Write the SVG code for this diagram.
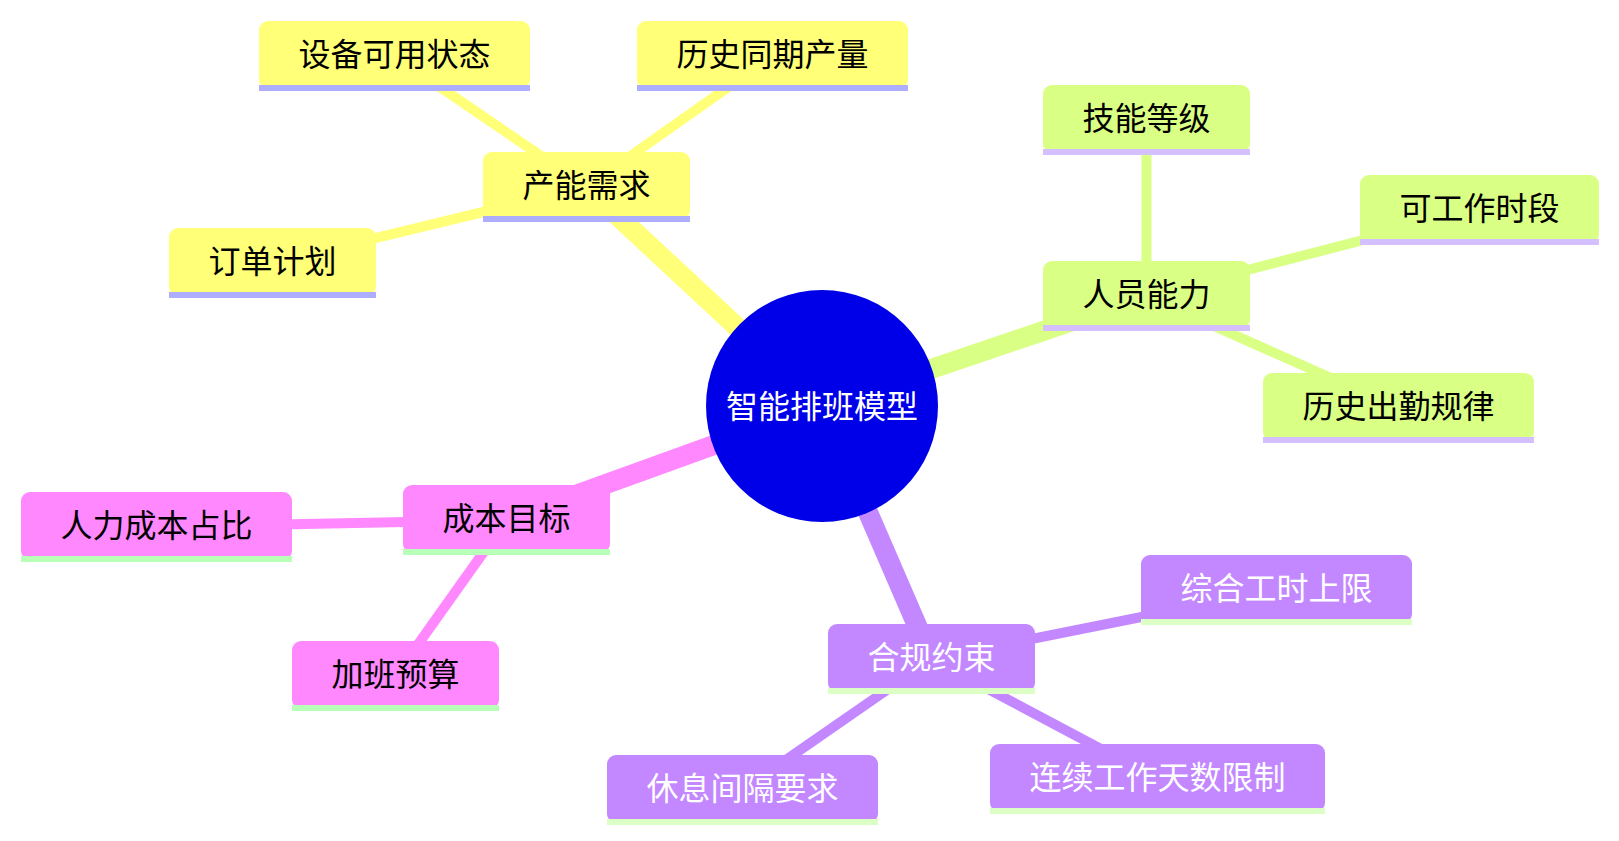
<svg xmlns="http://www.w3.org/2000/svg" width="1619" height="841" viewBox="0 0 1619 841">
<style>
text{font-family:"Noto Sans CJK SC","Noto Sans",sans-serif;font-size:32px;text-anchor:middle;dominant-baseline:central}
.e0{stroke-width:20;stroke-linecap:butt;fill:none}
.e1{stroke-width:10;stroke-linecap:butt;fill:none}
.sy{stroke:#ffff78}.sg{stroke:#d9ff84}.sp{stroke:#ff88ff}.sv{stroke:#c388ff}
.ny{fill:#ffff78}.ng{fill:#d9ff84}.np{fill:#ff88ff}.nv{fill:#c388ff}
.uy{fill:#aeaeff}.ug{fill:#d4c0ff}.up{fill:#b8ffb8}.uv{fill:#dcffc6}
.tb{fill:#000}.tw{fill:#fff}
</style>
<rect width="1619" height="841" fill="#fff"/>
<g id="connectors">
<line class="e0 sy" x1="822" y1="406" x2="586.5" y2="187"/>
<line class="e0 sg" x1="822" y1="406" x2="1146.5" y2="296"/>
<line class="e0 sp" x1="822" y1="406" x2="506.5" y2="520"/>
<line class="e0 sv" x1="822" y1="406" x2="931.5" y2="659"/>
<line class="e1 sy" x1="586.5" y1="187" x2="394.5" y2="56"/>
<line class="e1 sy" x1="586.5" y1="187" x2="772.5" y2="56"/>
<line class="e1 sy" x1="586.5" y1="187" x2="272.5" y2="263"/>
<line class="e1 sg" x1="1146.5" y1="296" x2="1146.5" y2="120"/>
<line class="e1 sg" x1="1146.5" y1="296" x2="1479.5" y2="210"/>
<line class="e1 sg" x1="1146.5" y1="296" x2="1398.5" y2="408"/>
<line class="e1 sp" x1="506.5" y1="520" x2="156.5" y2="527"/>
<line class="e1 sp" x1="506.5" y1="520" x2="395.5" y2="676"/>
<line class="e1 sv" x1="931.5" y1="659" x2="1276.5" y2="590"/>
<line class="e1 sv" x1="931.5" y1="659" x2="1157.5" y2="779"/>
<line class="e1 sv" x1="931.5" y1="659" x2="742.5" y2="790"/>
</g>
<g id="root">
<circle cx="822" cy="406" r="116" fill="#0000e8"/>
<text class="tw" x="822" y="404">智能排班模型</text>
</g>
<g id="n-capacity">
<rect class="ny" x="483" y="152" width="207" height="68" rx="9"/>
<rect class="uy" x="483" y="216" width="207" height="6"/>
<text class="tb" x="586.5" y="183">产能需求</text>
</g>
<g id="n-equipment">
<rect class="ny" x="259" y="21" width="271" height="68" rx="9"/>
<rect class="uy" x="259" y="85" width="271" height="6"/>
<text class="tb" x="394.5" y="52">设备可用状态</text>
</g>
<g id="n-history-output">
<rect class="ny" x="637" y="21" width="271" height="68" rx="9"/>
<rect class="uy" x="637" y="85" width="271" height="6"/>
<text class="tb" x="772.5" y="52">历史同期产量</text>
</g>
<g id="n-orders">
<rect class="ny" x="169" y="228" width="207" height="68" rx="9"/>
<rect class="uy" x="169" y="292" width="207" height="6"/>
<text class="tb" x="272.5" y="259">订单计划</text>
</g>
<g id="n-staff">
<rect class="ng" x="1043" y="261" width="207" height="68" rx="9"/>
<rect class="ug" x="1043" y="325" width="207" height="6"/>
<text class="tb" x="1146.5" y="292">人员能力</text>
</g>
<g id="n-skill">
<rect class="ng" x="1043" y="85" width="207" height="68" rx="9"/>
<rect class="ug" x="1043" y="149" width="207" height="6"/>
<text class="tb" x="1146.5" y="116">技能等级</text>
</g>
<g id="n-available">
<rect class="ng" x="1360" y="175" width="239" height="68" rx="9"/>
<rect class="ug" x="1360" y="239" width="239" height="6"/>
<text class="tb" x="1479.5" y="206">可工作时段</text>
</g>
<g id="n-attendance">
<rect class="ng" x="1263" y="373" width="271" height="68" rx="9"/>
<rect class="ug" x="1263" y="437" width="271" height="6"/>
<text class="tb" x="1398.5" y="404">历史出勤规律</text>
</g>
<g id="n-cost">
<rect class="np" x="403" y="485" width="207" height="68" rx="9"/>
<rect class="up" x="403" y="549" width="207" height="6"/>
<text class="tb" x="506.5" y="516">成本目标</text>
</g>
<g id="n-labor-ratio">
<rect class="np" x="21" y="492" width="271" height="68" rx="9"/>
<rect class="up" x="21" y="556" width="271" height="6"/>
<text class="tb" x="156.5" y="523">人力成本占比</text>
</g>
<g id="n-overtime">
<rect class="np" x="292" y="641" width="207" height="68" rx="9"/>
<rect class="up" x="292" y="705" width="207" height="6"/>
<text class="tb" x="395.5" y="672">加班预算</text>
</g>
<g id="n-compliance">
<rect class="nv" x="828" y="624" width="207" height="68" rx="9"/>
<rect class="uv" x="828" y="688" width="207" height="6"/>
<text class="tw" x="931.5" y="655">合规约束</text>
</g>
<g id="n-hours-limit">
<rect class="nv" x="1141" y="555" width="271" height="68" rx="9"/>
<rect class="uv" x="1141" y="619" width="271" height="6"/>
<text class="tw" x="1276.5" y="586">综合工时上限</text>
</g>
<g id="n-consecutive">
<rect class="nv" x="990" y="744" width="335" height="68" rx="9"/>
<rect class="uv" x="990" y="808" width="335" height="6"/>
<text class="tw" x="1157.5" y="775">连续工作天数限制</text>
</g>
<g id="n-rest">
<rect class="nv" x="607" y="755" width="271" height="68" rx="9"/>
<rect class="uv" x="607" y="819" width="271" height="6"/>
<text class="tw" x="742.5" y="786">休息间隔要求</text>
</g>
</svg>
